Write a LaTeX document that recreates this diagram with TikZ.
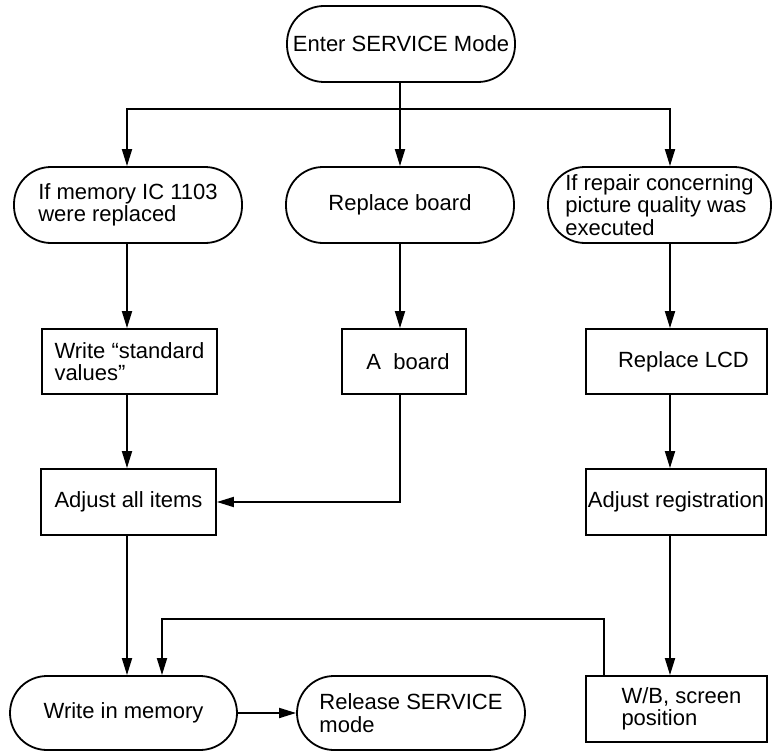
\documentclass[tikz,border=0pt]{standalone}
\usepackage{fontspec}
\setmainfont{Liberation Sans}
\usetikzlibrary{arrows.meta}
\begin{document}
\begin{tikzpicture}[x=1pt,y=-1pt,
  every node/.style={font=\fontsize{22}{22.5}\selectfont, inner sep=0pt, align=left},
  term/.style={draw, line width=1.8pt, rounded corners=37pt, minimum height=76pt},
  stepbox/.style={draw, line width=1.8pt, minimum height=65pt},
  conn/.style={line width=1.8pt, -{Triangle[length=17pt,width=10pt]}},
  plain/.style={line width=1.8pt}]
\useasboundingbox (0,0) rectangle (772,752);
% column coordinates
\coordinate (cL) at (127,0);
\coordinate (cM) at (400,0);
\coordinate (cR) at (670,0);
\coordinate (j) at (400,109);
\coordinate (fb1) at (604,619);
\coordinate (fb2) at (162,619);
% nodes
\node[term, minimum width=228pt] (enter) at (401,44) {Enter SERVICE Mode};
\node[term, minimum width=228pt] (ls) at (128,205) {\fontsize{22}{24.5}\selectfont If memory IC 1103\\were replaced};
\node[term, minimum width=228pt] (rb) at (400,205) {Replace board};
\node[term, minimum width=223pt] (rs) at (659.5,205) {If repair concerning\\picture quality was\\executed};
\node[stepbox, minimum width=175pt] (ws) at (129.5,361.5) {Write “standard\\values”};
\node[stepbox, minimum width=124pt] (ab) at (404,361.5) {\hspace*{8pt}A\ \ board};
\node[stepbox, minimum width=181pt] (lcd) at (676.5,361.5) {\hspace*{14pt}Replace LCD};
\node[stepbox, minimum width=175pt, minimum height=66pt] (adj) at (128.5,502) {Adjust all items};
\node[stepbox, minimum width=180pt, minimum height=66pt] (reg) at (676,502) {Adjust registration};
\node[term, minimum width=227pt, minimum height=74pt] (wim) at (123.5,713) {Write in memory};
\node[term, minimum width=228pt, minimum height=74pt] (rel) at (411,713) {Release SERVICE\\mode};
\node[stepbox, minimum width=181pt, minimum height=66pt] (wb) at (676.5,709) {\hspace*{14pt}\raisebox{-6pt}{\parbox[b]{124pt}{W/B, screen\\position}}};
% connectors
\draw[plain] (enter.south -| j) -- (j);
\draw[conn] (j) -| (ls.north -| cL);
\draw[conn] (j) -- (rb.north -| cM);
\draw[conn] (j) -| (rs.north -| cR);
\draw[conn] (ls.south -| cL) -- (ws.north -| cL);
\draw[conn] (ws.south -| cL) -- (adj.north -| cL);
\draw[conn] (adj.south -| cL) -- (wim.north -| cL);
\draw[conn] (rb.south -| cM) -- (ab.north -| cM);
\draw[conn] (ab.south -| cM) |- (adj.east);
\draw[conn] (rs.south -| cR) -- (lcd.north -| cR);
\draw[conn] (lcd.south -| cR) -- (reg.north -| cR);
\draw[conn] (reg.south -| cR) -- (wb.north -| cR);
\draw[conn] (wb.north -| fb1) -- (fb1) -- (fb2) -- (wim.north -| fb2);
\draw[conn] (wim.east) -- (rel.west);
\end{tikzpicture}
\end{document}
